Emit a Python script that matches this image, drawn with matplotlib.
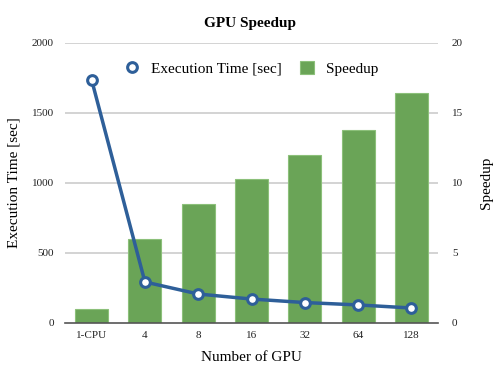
import matplotlib
matplotlib.use("Agg")
import matplotlib.pyplot as plt
from matplotlib.lines import Line2D
import numpy as np

categories = ["1-CPU", "4", "8", "16", "32", "64", "128"]
exec_time = [1736, 293, 207, 171, 146, 129, 107]
speedup = [1.0, 6.0, 8.5, 10.3, 12.0, 13.75, 16.4]

plt.rcParams['font.family'] = ['Liberation Serif', 'DejaVu Serif']

fig = plt.figure(figsize=(5, 3.75), dpi=100)
ax = fig.add_axes([0.13, 0.1387, 0.746, 0.7467])
ax2 = ax.twinx()

x = np.arange(len(categories))
bars = ax2.bar(x, speedup, width=0.62, color="#6aa457", edgecolor="#8cc07a", linewidth=0.8, label="Speedup", zorder=2)
ax2.set_ylim(0, 20)
ax2.set_yticks([0, 5, 10, 15, 20])

ax.set_zorder(ax2.get_zorder() + 1)
ax.patch.set_visible(False)
line, = ax.plot(x, exec_time, color="#2e5f99", linewidth=2.5, marker="o", markersize=7,
                markerfacecolor="white", markeredgecolor="#2e5f99", markeredgewidth=2.2,
                label="Execution Time [sec]", zorder=3)
ax.set_ylim(0, 2000)
ax.set_yticks([0, 500, 1000, 1500, 2000])
ax.set_xlim(-0.5, len(categories) - 0.5)
ax.set_xticks(x)
ax.set_xticklabels(categories)

for v in [500, 1000, 1500, 2000]:
    ax2.axhline(v / 100, color="#cccccc", linewidth=1.2, zorder=0)

for a in (ax, ax2):
    for s in a.spines.values():
        s.set_visible(False)
    a.tick_params(length=0, labelsize=8, colors="#222222")
ax.spines['bottom'].set_visible(True)
ax.spines['bottom'].set_color("#555555")
ax.spines['bottom'].set_linewidth(1.2)
ax.tick_params(axis='y', pad=8)
ax2.tick_params(axis='y', pad=10)
ax.tick_params(axis='x', pad=6)

ax.set_ylabel("Execution Time [sec]", fontsize=11, labelpad=8)
ax2.set_ylabel("Speedup", fontsize=11, labelpad=12)
ax.set_xlabel("Number of GPU", fontsize=11, labelpad=8)
fig.suptitle("GPU Speedup", fontsize=11, fontweight="bold", y=0.955)

marker_proxy = Line2D([], [], linestyle="none", marker="o", markersize=7,
                      markerfacecolor="white", markeredgecolor="#2e5f99", markeredgewidth=2.2)
leg = ax.legend([marker_proxy, bars], ["Execution Time [sec]", "Speedup"], loc="upper center",
                bbox_to_anchor=(0.5, 0.985), ncol=2, frameon=False, fontsize=11,
                handlelength=0.9, handleheight=0.9, columnspacing=1.2, handletextpad=0.8)

fig.savefig("out.png", dpi=100)
